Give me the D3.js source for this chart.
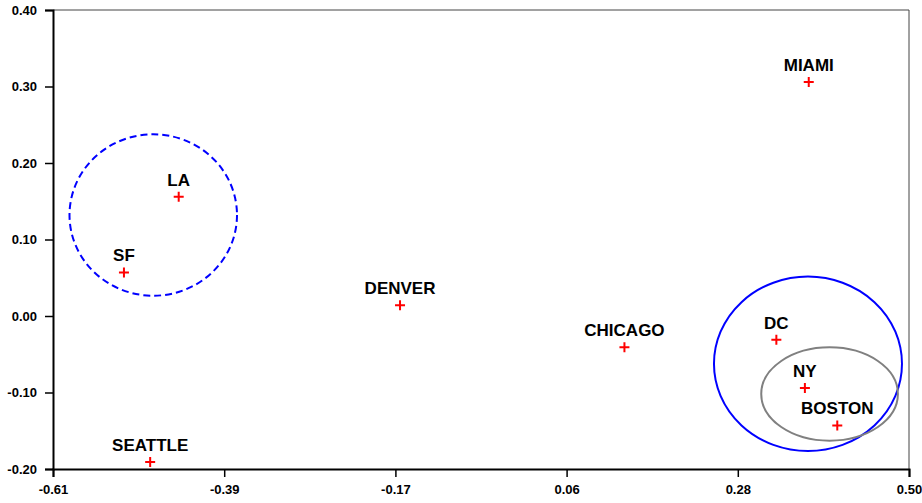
<!DOCTYPE html>
<html><head><meta charset="utf-8">
<script src="https://cdn.jsdelivr.net/npm/d3@7"></script>
<style>body{margin:0;background:#fff}svg{display:block}</style>
</head><body>
<script>
const cities = ["MIAMI","LA","SF","SEATTLE","DENVER","CHICAGO","DC","NY","BOSTON"];
const xVals = [0.370, -0.447, -0.518, -0.484, -0.160, 0.131, 0.328, 0.365, 0.407];
const yVals = [0.306, 0.156, 0.057, -0.191, 0.014, -0.041, -0.031, -0.094, -0.143];
const xTicks = [-0.61, -0.388, -0.166, 0.056, 0.278, 0.50];
const yTicks = [-0.20, -0.10, 0.00, 0.10, 0.20, 0.30, 0.40];
// ellipses: center x, center y, radius x, radius y (data units)
const ellCx = [-0.480, 0.369, 0.397];
const ellCy = [0.132, -0.0625, -0.102];
const ellRx = [0.1086, 0.1219, 0.0886];
const ellRy = [0.1055, 0.114, 0.061];
const ellColor = ["#0000ff", "#0000ff", "#808080"];
const ellDash = ["7,4", null, null];

const W = 922, H = 503;
const m = {l:53, r:13, t:10, b:34};
const svg = d3.select("body").append("svg").attr("width", W).attr("height", H);
const x = d3.scaleLinear().domain([-0.61, 0.50]).range([m.l, W - m.r]);
const y = d3.scaleLinear().domain([-0.20, 0.40]).range([H - m.b, m.t]);

// frame top/right
svg.append("line").attr("x1", x(-0.61)).attr("x2", x(0.50)).attr("y1", y(0.40)).attr("y2", y(0.40))
  .attr("stroke", "#444").attr("stroke-width", 1);
svg.append("line").attr("x1", x(0.50)).attr("x2", x(0.50)).attr("y1", y(0.40)).attr("y2", y(-0.20))
  .attr("stroke", "#444").attr("stroke-width", 1);

const f2 = d3.format(".2f");
const fmt = v => f2(v).replace("\u2212", "-");
const xAxis = svg.append("g").attr("transform", `translate(0,${y(-0.20)})`)
  .call(d3.axisBottom(x).tickValues(xTicks).tickFormat(fmt).tickSizeOuter(0).tickSize(8).tickPadding(8));
const yAxis = svg.append("g").attr("transform", `translate(${x(-0.61)},0)`)
  .call(d3.axisLeft(y).tickValues(yTicks).tickFormat(fmt).tickSizeOuter(0).tickSize(8).tickPadding(8));
[xAxis, yAxis].forEach(g => {
  g.select(".domain").attr("stroke", "#000").attr("stroke-width", 2);
  g.selectAll(".tick line").attr("stroke", "#000").attr("stroke-width", 1.5);
  g.selectAll("text").attr("font-family", "Liberation Sans, Arial, sans-serif")
    .attr("font-weight", "bold").attr("font-size", 13).attr("fill", "#000");
});

// ellipses
svg.selectAll("ellipse.grp").data(ellCx).enter().append("ellipse")
  .attr("cx", (d,i) => x(ellCx[i]))
  .attr("cy", (d,i) => y(ellCy[i]))
  .attr("rx", (d,i) => x(ellCx[i] + ellRx[i]) - x(ellCx[i]))
  .attr("ry", (d,i) => y(ellCy[i]) - y(ellCy[i] + ellRy[i]))
  .attr("fill", "none")
  .attr("stroke", (d,i) => ellColor[i])
  .attr("stroke-width", 2)
  .attr("stroke-dasharray", (d,i) => ellDash[i]);

// points
const pts = svg.selectAll("g.pt").data(cities).enter().append("g")
  .attr("transform", (d,i) => `translate(${x(xVals[i])},${y(yVals[i])})`);
pts.append("path").attr("d", "M-5,0H5M0,-5V5").attr("stroke", "#ff0000").attr("stroke-width", 2);
pts.append("text").text(d => d).attr("x", 0).attr("y", -11)
  .attr("text-anchor", "middle")
  .attr("font-family", "Liberation Sans, Arial, sans-serif")
  .attr("font-weight", "bold").attr("font-size", 17).attr("fill", "#000");
</script>
</body></html>
